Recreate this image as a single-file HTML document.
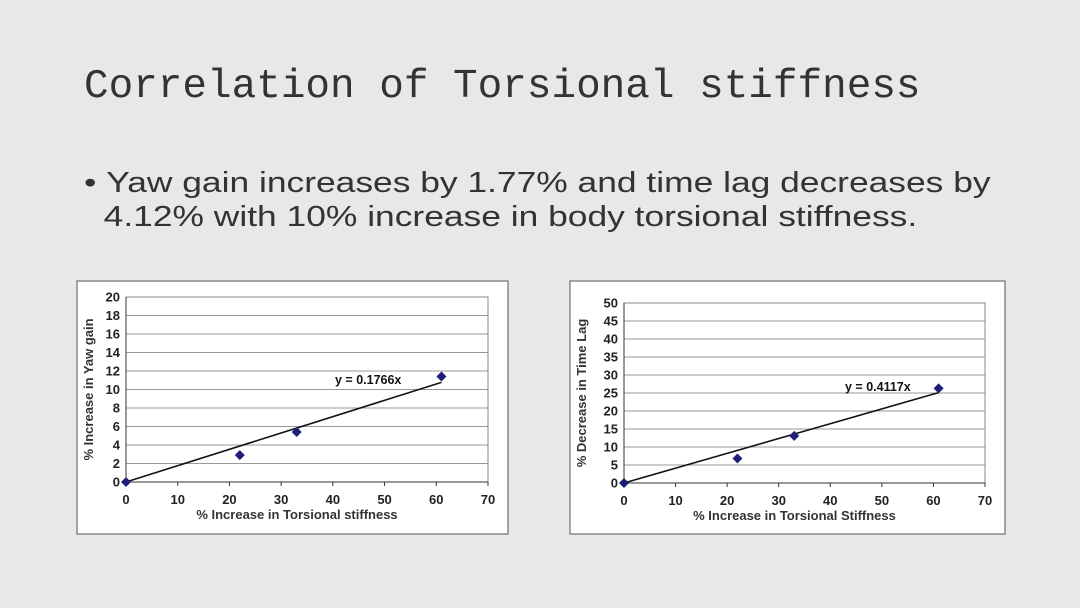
<!DOCTYPE html>
<html><head><meta charset="utf-8"><style>
body{margin:0;width:1080px;height:608px;background:#e8e8e8;overflow:hidden;position:relative;font-family:"Liberation Sans",sans-serif}
#title{position:absolute;left:84px;top:64px;font-family:"Liberation Mono",monospace;font-size:41px;color:#333;white-space:nowrap}
#bullet{position:absolute;left:84px;top:166px;font-size:29px;color:#333;line-height:34px;white-space:nowrap;transform:scaleX(1.22);transform-origin:0 0}
svg{position:absolute;left:0;top:0}
</style></head><body>
<div id="title">Correlation of Torsional stiffness</div>
<div id="bullet">•&nbsp;Yaw gain increases by 1.77% and time lag decreases by<br>&nbsp;&nbsp;4.12% with 10% increase in body torsional stiffness.</div>
<svg id="s" width="1080" height="608"></svg>
<script>
const xVals1=[0,22,33,61];
const yVals1=[0,2.9,5.4,11.4];
const slope1=0.1766;
const yTicks1=[0,2,4,6,8,10,12,14,16,18,20];
const xVals2=[0,22,33,61];
const yVals2=[0,6.8,13.1,26.3];
const slope2=0.4117;
const yTicks2=[0,5,10,15,20,25,30,35,40,45,50];
const xTicks=[0,10,20,30,40,50,60,70];
const NS="http://www.w3.org/2000/svg";
const svg=document.getElementById('s');
function mk(tag,attrs,parent,text){const e=document.createElementNS(NS,tag);for(const k in attrs)e.setAttribute(k,attrs[k]);if(text!==undefined)e.textContent=text;(parent||svg).appendChild(e);return e;}
function chart(id,box,plot,xs,ys,slope,yTicks,yMax,ytitle,xtitle,eq,eqPos){
 const g=mk('g',{});
 
 
 const b=mk('rect',{x:box[0],y:box[1],width:box[2],height:box[3],fill:'#fff',stroke:'#888','stroke-width':1.5},g);
 
 const [L,T,R,B]=plot;
 const X=v=>L+(v/70)*(R-L), Y=v=>B-(v/yMax)*(B-T);
 yTicks.forEach(t=>{
  const l=mk('line',{x1:L,x2:R,y1:Y(t),y2:Y(t),stroke:'#999','stroke-width':1},g);
  
  const tx=mk('text',{x:L-6,y:Y(t)+4.5,'text-anchor':'end','font-size':13,'font-weight':'bold',fill:'#222'},g,t);
  
 });
 mk('rect',{x:L,y:T,width:R-L,height:B-T,fill:'none',stroke:'#888','stroke-width':1},g);
 const ax=mk('line',{x1:L,x2:L,y1:T,y2:B+4,stroke:'#333','stroke-width':1},g);
 
 const axx=mk('line',{x1:L,x2:R,y1:B,y2:B,stroke:'#333','stroke-width':1},g);
 
 xTicks.forEach(t=>{
  mk('line',{x1:X(t),x2:X(t),y1:B,y2:B+4,stroke:'#333'},g);
  const tx=mk('text',{x:X(t),y:B+22,'text-anchor':'middle','font-size':13,'font-weight':'bold',fill:'#222'},g,t);
  
 });
 const xm=Math.max(...xs);
 const tl=mk('line',{x1:X(0),y1:Y(0),x2:X(xm),y2:Y(slope*xm),stroke:'#111','stroke-width':1.6},g);
 
 xs.forEach((x,i)=>{
  const cx=X(x),cy=Y(ys[i]);
  const p=mk('polygon',{points:`${cx},${cy-5} ${cx+5},${cy} ${cx},${cy+5} ${cx-5},${cy}`,fill:'#1f1f7a'},g);
  
 });
 const e=mk('text',{x:eqPos[0],y:eqPos[1],'font-size':12.5,'font-weight':'bold',fill:'#111'},g,eq);
 
 const xt=mk('text',{x:(L+R)/2-10,y:B+37,'text-anchor':'middle','font-size':13,'font-weight':'bold',fill:'#333'},g,xtitle);
 
 const yt=mk('text',{x:0,y:0,'text-anchor':'middle','font-size':13,'font-weight':'bold',fill:'#333',transform:`translate(${box[0]+16},${(T+B)/2}) rotate(-90)`},g,ytitle);
 
}
chart('yaw-gain-chart',[77,281,431,253],[126,297,488,482],xVals1,yVals1,slope1,yTicks1,20,'% Increase in Yaw gain','% Increase in Torsional stiffness','y = 0.1766x',[335,384]);
chart('time-lag-chart',[570,281,435,253],[624,303,985,483],xVals2,yVals2,slope2,yTicks2,50,'% Decrease in Time Lag','% Increase in Torsional Stiffness','y = 0.4117x',[845,391]);
</script>
</body></html>
